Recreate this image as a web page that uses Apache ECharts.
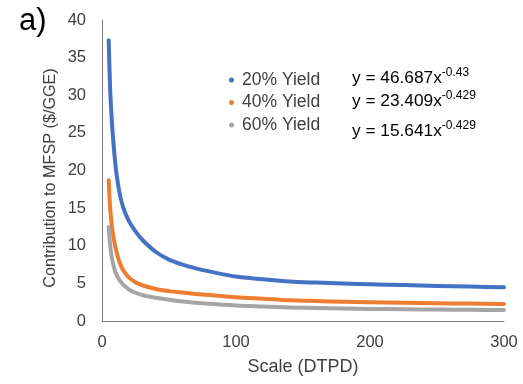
<!DOCTYPE html>
<html>
<head>
<meta charset="utf-8">
<script src="https://cdn.jsdelivr.net/npm/echarts@6/dist/echarts.min.js"></script>
<style>html,body{margin:0;padding:0;background:#fff}#c{width:523px;height:384px}</style>
</head>
<body>
<div id="c"></div>
<script>
// Scale (DTPD) sample points
const scaleX = [5, 6, 7, 8, 10, 12, 14, 16, 20, 25, 30, 40, 50, 60, 70, 80, 100, 120, 140, 160, 180, 200, 225, 250, 275, 300];
const yield20 = [37.3, 31.2, 27.6, 24.9, 20.8, 18.1, 16.3, 15.0, 13.3, 11.9, 10.8, 9.2, 8.15, 7.5, 7.0, 6.6, 5.9, 5.55, 5.25, 5.1, 4.98, 4.88, 4.77, 4.66, 4.57, 4.48];
const yield40 = [18.7, 15.2, 13.2, 11.8, 9.8, 8.4, 7.4, 6.7, 5.8, 5.15, 4.75, 4.25, 3.97, 3.78, 3.6, 3.45, 3.15, 2.95, 2.75, 2.65, 2.55, 2.5, 2.43, 2.37, 2.31, 2.26];
const yield60 = [12.5, 10.2, 8.8, 7.8, 6.5, 5.75, 5.2, 4.8, 4.2, 3.75, 3.45, 3.08, 2.83, 2.6, 2.43, 2.3, 2.05, 1.92, 1.8, 1.72, 1.65, 1.6, 1.56, 1.52, 1.49, 1.46];
const seriesNames = ['20% Yield', '40% Yield', '60% Yield'];
const equations = [['y = 46.687x', '-0.43'], ['y = 23.409x', '-0.429'], ['y = 15.641x', '-0.429']];
const xTicks = [0, 100, 200, 300];
const yTicks = [0, 5, 10, 15, 20, 25, 30, 35, 40];
const colors = ['#4472C4', '#ED7D31', '#A5A5A5'];

const pair = ys => scaleX.map((x, i) => [x, ys[i]]);
const font = 'Liberation Sans, Arial, sans-serif';

const chart = echarts.init(document.getElementById('c'), null, {renderer: 'canvas'});
const eqTop = [67, 90, 120];
chart.setOption({
  animation: false,
  color: colors,
  grid: {left: 102, right: 19, top: 20, bottom: 63},
  legend: {
    orient: 'vertical', left: 229, top: 71, padding: 0, itemWidth: 5, itemHeight: 5, itemGap: 4.5,
    icon: 'circle',
    textStyle: {fontFamily: font, fontSize: 17.5, color: '#404040', lineHeight: 17, padding: [0, 0, 0, 3]},
    data: seriesNames
  },
  xAxis: {
    type: 'value', min: xTicks[0], max: xTicks[xTicks.length - 1], interval: 100,
    name: 'Scale (DTPD)', nameLocation: 'middle', nameGap: 37,
    nameTextStyle: {fontFamily: font, fontSize: 18, color: '#404040'},
    axisLine: {show: true, lineStyle: {color: '#7f7f7f', width: 1}},
    axisTick: {show: false}, splitLine: {show: false},
    axisLabel: {fontFamily: font, fontSize: 16.5, color: '#404040', margin: 13}
  },
  yAxis: {
    type: 'value', min: yTicks[0], max: yTicks[yTicks.length - 1], interval: 5,
    axisLine: {show: true, lineStyle: {color: '#7f7f7f', width: 1}},
    axisTick: {show: false}, splitLine: {show: false},
    axisLabel: {fontFamily: font, fontSize: 16.5, color: '#404040', margin: 16}
  },
  series: [yield20, yield40, yield60].map((ys, i) => ({
    name: seriesNames[i], type: 'line', smooth: 0.3, showSymbol: false,
    data: pair(ys), lineStyle: {width: 4, color: colors[i], cap: 'round', join: 'round'},
    itemStyle: {color: colors[i]}
  })),
  graphic: [
    {type: 'text', left: 19, top: 6, style: {text: 'a)', fontFamily: font, fontSize: 31, fill: '#000'}},
    {type: 'text', x: 51, y: 178, rotation: Math.PI / 2,
     style: {text: 'Contribution to MFSP ($/GGE)', fontFamily: font, fontSize: 16.2, fill: '#404040', align: 'center', verticalAlign: 'middle'}}
  ].concat(equations.map((e, i) => ({
    type: 'text', left: 352, top: eqTop[i],
    style: {
      text: '{b|' + e[0] + '}{s|' + e[1] + '}',
      rich: {
        b: {fontFamily: font, fontSize: 17.3, fill: '#000', lineHeight: 20, verticalAlign: 'bottom'},
        s: {fontFamily: font, fontSize: 12, fill: '#000', lineHeight: 13, verticalAlign: 'top'}
      }
    }
  })))
});
</script>
</body>
</html>
